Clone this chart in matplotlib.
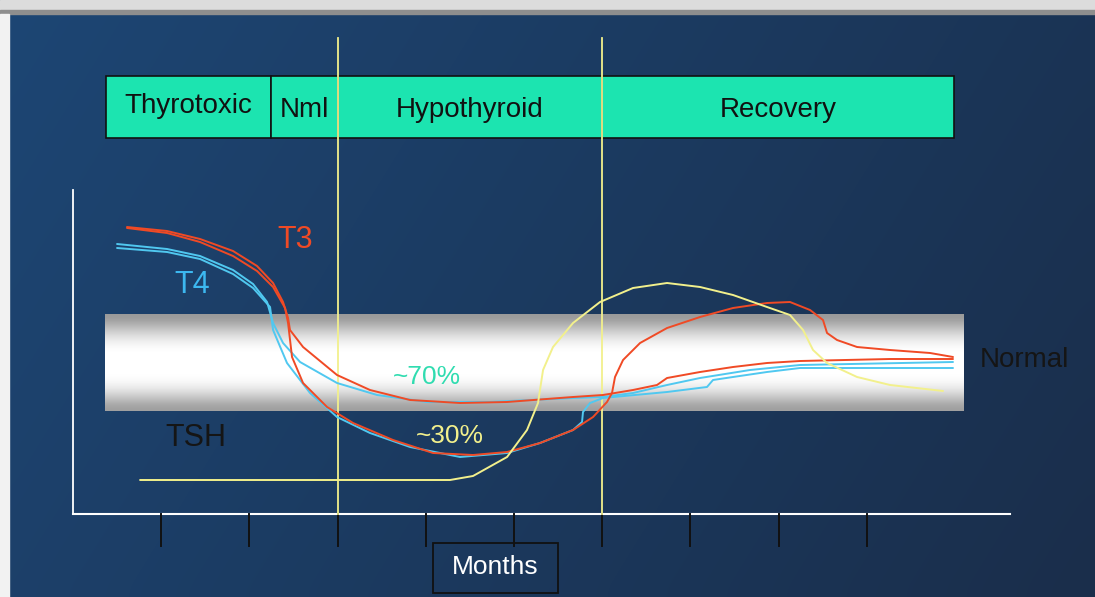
import numpy as np
import matplotlib
matplotlib.use("Agg")
import matplotlib.pyplot as plt
from matplotlib.patches import Rectangle

plt.rcParams['font.family'] = ['Liberation Sans', 'DejaVu Sans']

# x in months (tick k = month k), y in arbitrary level units (x axis = 0)
phase_names = ["Thyrotoxic", "Nml", "Hypothyroid", "Recovery"]
phase_edges = [0.37, 2.25, 3.0, 6.0, 9.99]
month_ticks = [1, 2, 3, 4, 5, 6, 7, 8, 9]
divider_months = [3.0, 6.0]
normal_low, normal_high = 10.3, 20.0

# T3, branch staying near the normal band (~70%)
t3_a_x = [0.612, 1.066, 1.440, 1.814, 2.086, 2.268, 2.381, 2.438, 2.460, 2.608, 2.993, 3.367, 3.821, 4.388,
          4.921, 5.669, 6.009, 6.349, 6.621, 6.735, 7.109, 7.483, 7.868, 8.243, 9.263, 9.977]
t3_a_y = [28.7, 28.3, 27.5, 26.3, 24.8, 23.1, 21.2, 19.6, 18.4, 16.7, 13.9, 12.4, 11.4, 11.1,
          11.2, 11.7, 11.9, 12.4, 12.9, 13.6, 14.2, 14.7, 15.1, 15.3, 15.5, 15.5]

# T3, branch dropping low (~30%) then overshooting in recovery
t3_b_x = [0.612, 1.066, 1.440, 1.814, 2.086, 2.268, 2.404, 2.438, 2.483, 2.608, 2.880, 3.175, 3.628, 4.082,
          4.535, 4.921, 5.295, 5.669, 5.896, 6.054, 6.111, 6.145, 6.236, 6.429, 6.735, 7.109, 7.483, 7.868,
          8.129, 8.356, 8.503, 8.549, 8.662, 8.889, 9.263, 9.717, 9.977]
t3_b_y = [28.6, 28.1, 27.2, 25.8, 24.3, 22.7, 20.6, 19.1, 15.7, 13.1, 10.7, 9.1, 7.4, 6.1,
          5.9, 6.2, 7.1, 8.4, 9.7, 11.2, 12.1, 13.7, 15.4, 17.1, 18.6, 19.7, 20.6, 21.1,
          21.2, 20.4, 19.4, 18.1, 17.4, 16.7, 16.4, 16.1, 15.7]

t4_a_x = [0.499, 1.066, 1.440, 1.814, 2.041, 2.200, 2.268, 2.381, 2.574, 2.993, 3.447, 4.014, 4.728, 5.669,
          6.009, 6.349, 6.735, 7.109, 7.676, 8.243, 9.977]
t4_a_y = [27.0, 26.5, 25.8, 24.4, 23.0, 21.2, 19.1, 17.1, 15.2, 13.1, 11.9, 11.2, 11.2, 11.6,
          11.7, 12.1, 12.9, 13.6, 14.4, 14.9, 15.2]

t4_b_x = [0.499, 1.066, 1.440, 1.814, 2.041, 2.234, 2.268, 2.426, 2.687, 2.993, 3.367, 3.821, 4.388, 4.921,
          5.295, 5.669, 5.771, 5.782, 5.862, 6.009, 6.735, 7.188, 7.256, 7.483, 7.868, 8.243, 9.263, 9.977]
t4_b_y = [26.6, 26.2, 25.5, 24.0, 22.6, 20.7, 18.4, 15.1, 12.1, 9.7, 8.1, 6.7, 5.7, 6.1,
          7.1, 8.4, 9.2, 10.2, 11.1, 11.6, 12.2, 12.7, 13.4, 13.7, 14.2, 14.6, 14.6, 14.6]

tsh_x = [0.760, 4.274, 4.535, 4.921, 5.147, 5.272, 5.329, 5.442, 5.669, 5.975, 6.349, 6.735, 7.109, 7.483,
         7.868, 8.129, 8.277, 8.390, 8.549, 8.889, 9.263, 9.864]
tsh_y = [3.4, 3.4, 3.8, 5.7, 8.4, 11.1, 14.4, 16.7, 19.1, 21.2, 22.6, 23.1, 22.7, 21.9,
         20.7, 19.9, 18.4, 16.4, 15.1, 13.7, 12.9, 12.3]

fig = plt.figure(figsize=(10.95, 5.97), dpi=100)
ax = fig.add_axes([0, 0, 1, 1])
xlim = (-0.828, 11.587)
ylim = (-8.3, 51.4)
ax.set_xlim(xlim)
ax.set_ylim(ylim)
ax.axis('off')

# slide background, blue gradient getting darker to the right
gx, gy = np.meshgrid(np.linspace(0, 1, 60), np.linspace(0, 1, 40))
g = 0.75 * gx + 0.25 * gy
c0 = np.array([0x1d, 0x46, 0x74]) / 255
c1 = np.array([0x1a, 0x2e, 0x4b]) / 255
bg = c0[None, None, :] * (1 - g[..., None]) + c1[None, None, :] * g[..., None]
ax.imshow(bg, extent=(*xlim, *ylim), origin='upper', aspect='auto', interpolation='bicubic', zorder=0)
ax.add_patch(Rectangle((0, 0.982), 1, 0.018, transform=ax.transAxes, color='#dcdcdc', zorder=1))
ax.add_patch(Rectangle((0, 0.977), 1, 0.007, transform=ax.transAxes, color='#8e8e8e', zorder=1))
ax.add_patch(Rectangle((0, 0), 0.008, 0.977, transform=ax.transAxes, color='#f2f2f2', zorder=1))

# normal range tube
tube = np.array([0.60, 0.72, 0.85, 0.95, 1.0, 1.0, 1.0, 1.0, 0.97, 0.88, 0.75, 0.62])[:, None]
ax.imshow(tube, extent=(phase_edges[0] - 0.01, 10.09, normal_low, normal_high), cmap='gray', vmin=0, vmax=1,
          aspect='auto', interpolation='bicubic', zorder=2)

# phase boxes
for i, name in enumerate(phase_names):
    x0, x1 = phase_edges[i], phase_edges[i + 1]
    ax.add_patch(Rectangle((x0, 37.6), x1 - x0, 6.2, facecolor='#1ce4b0', edgecolor='#111111', lw=1.2, zorder=3))
    base = 40.1 if i == 0 else 39.7
    ax.text((x0 + x1) / 2, base, name, ha='center', va='baseline', fontsize=20, color='#111111', zorder=4)

# axes lines and ticks
ax.plot([0, 0], [0, 32.4], color='white', lw=1.3, zorder=3)
ax.plot([0, 10.62], [0, 0], color='white', lw=1.5, zorder=3)
for m in month_ticks:
    ax.plot([m, m], [0, -3.2], color='#111111', lw=1.4, zorder=3)

for m in divider_months:
    ax.plot([m, m], [47.6, 0], color='#f2f08c', lw=1.3, zorder=5)

# hormone curves
kw = dict(lw=1.4, solid_joinstyle='round', solid_capstyle='round')
ax.plot(t4_a_x, t4_a_y, color='#50c8f0', zorder=6, **kw)
ax.plot(t4_b_x, t4_b_y, color='#50c8f0', zorder=6, **kw)
ax.plot(t3_a_x, t3_a_y, color='#f04a25', zorder=7, **kw)
ax.plot(t3_b_x, t3_b_y, color='#f04a25', zorder=7, **kw)
ax.plot(tsh_x, tsh_y, color='#f2f08c', zorder=7, **kw)

ax.text(2.52, 27.4, "T3", ha='center', va='center', fontsize=22, color='#f04a25', zorder=8)
ax.text(1.35, 22.9, "T4", ha='center', va='center', fontsize=22, color='#3cb8f0', zorder=8)
ax.text(1.39, 7.6, "TSH", ha='center', va='center', fontsize=22, color='#151515', zorder=8)
ax.text(4.01, 13.7, "~70%", ha='center', va='center', fontsize=19, color='#30dcb0', zorder=8)
ax.text(4.27, 7.8, "~30%", ha='center', va='center', fontsize=19, color='#f2f08c', zorder=8)
ax.text(10.79, 15.4, "Normal", ha='center', va='center', fontsize=20, color='#151515', zorder=8)

ax.add_patch(Rectangle((4.08, -7.9), 1.42, 5.0, facecolor='none', edgecolor='#111111', lw=1.3, zorder=4))
ax.text(4.79, -5.3, "Months", ha='center', va='center', fontsize=19, color='white', zorder=5)

fig.savefig("out.png", dpi=100)
